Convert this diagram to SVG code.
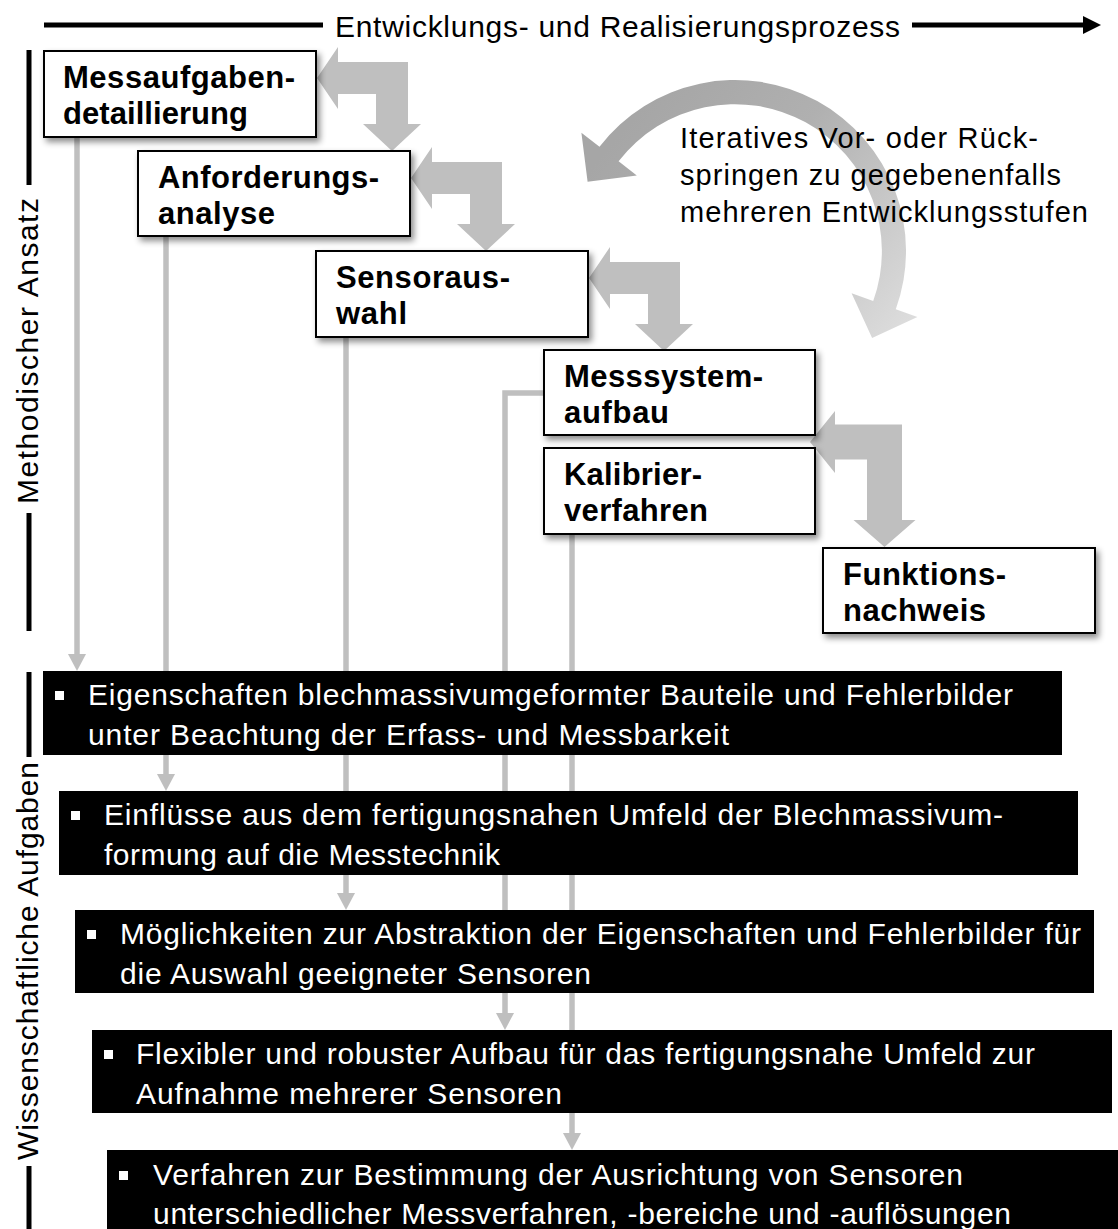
<svg xmlns="http://www.w3.org/2000/svg" width="1118" height="1229" viewBox="0 0 1118 1229">
<defs>
<style>
.wbox{fill:#fff;stroke:#000;stroke-width:2;filter:url(#sh)}
.bt{font-family:"Liberation Sans",Arial,sans-serif;font-weight:bold;font-size:31px;fill:#000}
.bbox{fill:#000}
.wt{font-family:"Liberation Sans",Arial,sans-serif;font-size:30px;fill:#fff}
.bul{fill:#fff}
.conn{stroke:#bfbfbf;stroke-width:5.5;fill:none}
.ah{fill:#bfbfbf}
.step{fill:#bfbfbf}
.lbl{font-family:"Liberation Sans",Arial,sans-serif;font-size:30px;fill:#000}
.note{font-family:"Liberation Sans",Arial,sans-serif;font-size:29px;fill:#000}
.bar{stroke:#000;stroke-width:5;fill:none}
</style>
<filter id="sh" x="-10%" y="-15%" width="130%" height="150%">
<feDropShadow dx="3" dy="4" stdDeviation="3" flood-color="#000" flood-opacity="0.45"/>
</filter>
<linearGradient id="cg" gradientUnits="userSpaceOnUse" x1="640" y1="110" x2="900" y2="330">
<stop offset="0" stop-color="#a6a6a6"/>
<stop offset="0.4" stop-color="#b0b0b0"/>
<stop offset="1" stop-color="#dcdcdc"/>
</linearGradient>
</defs>
<rect width="1118" height="1229" fill="#fff"/>

<g id="header">
<line class="bar" x1="44" y1="25" x2="323" y2="25"/>
<text class="lbl" x="335" y="37" textLength="565" lengthAdjust="spacing">Entwicklungs-  und Realisierungsprozess</text>
<line class="bar" x1="912" y1="25" x2="1086" y2="25"/>
<polygon points="1083,16 1101,25 1083,34" fill="#000"/>
</g>

<g id="label-methodisch">
<line class="bar" x1="29" y1="50" x2="29" y2="185"/>
<text class="lbl" transform="translate(38,351) rotate(-90)" text-anchor="middle" textLength="306" lengthAdjust="spacing">Methodischer Ansatz</text>
<line class="bar" x1="29" y1="513" x2="29" y2="631"/>
</g>

<g id="label-wissenschaftlich">
<line class="bar" x1="29" y1="672" x2="29" y2="757"/>
<text class="lbl" transform="translate(38,961) rotate(-90)" text-anchor="middle" textLength="398" lengthAdjust="spacing">Wissenschaftliche Aufgaben</text>
<line class="bar" x1="29" y1="1166" x2="29" y2="1229"/>
</g>

<g id="connectors">
<line class="conn" x1="77" y1="137" x2="77" y2="656"/>
<polygon class="ah" points="68,654 86,654 77,671"/>
<line class="conn" x1="166" y1="236" x2="166" y2="776"/>
<polygon class="ah" points="157,774 175,774 166,791"/>
<line class="conn" x1="346" y1="337" x2="346" y2="895"/>
<polygon class="ah" points="337,893 355,893 346,910"/>
<polyline class="conn" points="544,393 505,393 505,1015"/>
<polygon class="ah" points="496,1013 514,1013 505,1030"/>
<line class="conn" x1="572" y1="534" x2="572" y2="1135"/>
<polygon class="ah" points="563,1133 581,1133 572,1150"/>
<path class="step" d="M317,78 L338,47 L338,62 L408,62 L408,124 L421,124 L392,151 L363,124 L376,124 L376,94 L338,94 L338,109 Z"/>
<path class="step" d="M411,178 L432,147 L432,162 L502,162 L502,224 L515,224 L486,251 L457,224 L470,224 L470,194 L432,194 L432,209 Z"/>
<path class="step" d="M589,278 L610,247 L610,262 L680,262 L680,324 L693,324 L664,351 L635,324 L648,324 L648,294 L610,294 L610,309 Z"/>
<path class="step" d="M810,442 L835,411 L835,424.5 L902,424.5 L902,520 L915.5,520 L884.5,547 L853.5,520 L867,520 L867,459.5 L835,459.5 L835,473 Z"/>
<path fill="url(#cg)" d="M587.6,181.7 L581.4,132.7 L599.5,146.7 A171,171 0 0 1 895.8,309.2 L917.4,317 L872.1,337.9 L851.6,293.2 L873.2,301 A147,147 0 0 0 618.6,161.3 L636.8,175.4 Z"/>
</g>

<g id="task-1">
<rect class="bbox" x="43" y="671" width="1019" height="84"/>
<rect class="bul" x="55" y="691" width="9" height="9"/>
<text class="wt" x="88" y="705" textLength="925" lengthAdjust="spacing">Eigenschaften blechmassivumgeformter Bauteile und Fehlerbilder</text>
<text class="wt" x="88" y="745" textLength="641" lengthAdjust="spacing">unter Beachtung der Erfass- und Messbarkeit</text>
</g>
<g id="task-2">
<rect class="bbox" x="59" y="791" width="1019" height="84"/>
<rect class="bul" x="71" y="811" width="9" height="9"/>
<text class="wt" x="104" y="825" textLength="899" lengthAdjust="spacing">Einflüsse aus dem fertigungsnahen Umfeld der Blechmassivum-</text>
<text class="wt" x="104" y="865" textLength="396" lengthAdjust="spacing">formung auf die Messtechnik</text>
</g>
<g id="task-3">
<rect class="bbox" x="75" y="910" width="1019" height="83"/>
<rect class="bul" x="87" y="930" width="9" height="9"/>
<text class="wt" x="120" y="944" textLength="961" lengthAdjust="spacing">Möglichkeiten zur Abstraktion der Eigenschaften und Fehlerbilder für</text>
<text class="wt" x="120" y="984" textLength="471" lengthAdjust="spacing">die Auswahl geeigneter Sensoren</text>
</g>
<g id="task-4">
<rect class="bbox" x="92" y="1030" width="1020" height="83"/>
<rect class="bul" x="104" y="1050" width="9" height="9"/>
<text class="wt" x="136" y="1064" textLength="899" lengthAdjust="spacing">Flexibler und robuster Aufbau für das fertigungsnahe Umfeld zur</text>
<text class="wt" x="136" y="1104" textLength="426" lengthAdjust="spacing">Aufnahme mehrerer Sensoren</text>
</g>
<g id="task-5">
<rect class="bbox" x="107" y="1150" width="1030" height="100"/>
<rect class="bul" x="119" y="1171" width="9" height="9"/>
<text class="wt" x="153" y="1185" textLength="810" lengthAdjust="spacing">Verfahren zur Bestimmung der Ausrichtung von Sensoren</text>
<text class="wt" x="153" y="1224" textLength="858" lengthAdjust="spacing">unterschiedlicher Messverfahren, -bereiche und -auflösungen</text>
</g>

<g id="iterative-note">
<text class="note" x="680" y="148" textLength="358" lengthAdjust="spacing">Iteratives Vor- oder Rück-</text>
<text class="note" x="680" y="185" textLength="381" lengthAdjust="spacing">springen zu gegebenenfalls</text>
<text class="note" x="680" y="222" textLength="408" lengthAdjust="spacing">mehreren Entwicklungsstufen</text>
</g>

<g id="step-messaufgaben">
<rect class="wbox" x="44" y="51" width="272" height="86"/>
<text class="bt" x="63" y="88" textLength="232" lengthAdjust="spacing">Messaufgaben-</text>
<text class="bt" x="63" y="124" textLength="185" lengthAdjust="spacing">detaillierung</text>
</g>
<g id="step-anforderung">
<rect class="wbox" x="138" y="151" width="272" height="85"/>
<text class="bt" x="158" y="188" textLength="221" lengthAdjust="spacing">Anforderungs-</text>
<text class="bt" x="158" y="224" textLength="117" lengthAdjust="spacing">analyse</text>
</g>
<g id="step-sensor">
<rect class="wbox" x="316" y="251" width="272" height="86"/>
<text class="bt" x="336" y="288" textLength="174" lengthAdjust="spacing">Sensoraus-</text>
<text class="bt" x="336" y="324" textLength="71" lengthAdjust="spacing">wahl</text>
</g>
<g id="step-messsystem">
<rect class="wbox" x="544" y="350" width="271" height="85"/>
<text class="bt" x="564" y="387" textLength="199" lengthAdjust="spacing">Messsystem-</text>
<text class="bt" x="564" y="423" textLength="105" lengthAdjust="spacing">aufbau</text>
</g>
<g id="step-kalibrier">
<rect class="wbox" x="544" y="448" width="271" height="86"/>
<text class="bt" x="564" y="485" textLength="138" lengthAdjust="spacing">Kalibrier-</text>
<text class="bt" x="564" y="521" textLength="144" lengthAdjust="spacing">verfahren</text>
</g>
<g id="step-funktion">
<rect class="wbox" x="823" y="548" width="272" height="85"/>
<text class="bt" x="843" y="585" textLength="163" lengthAdjust="spacing">Funktions-</text>
<text class="bt" x="843" y="621" textLength="143" lengthAdjust="spacing">nachweis</text>
</g>
</svg>
